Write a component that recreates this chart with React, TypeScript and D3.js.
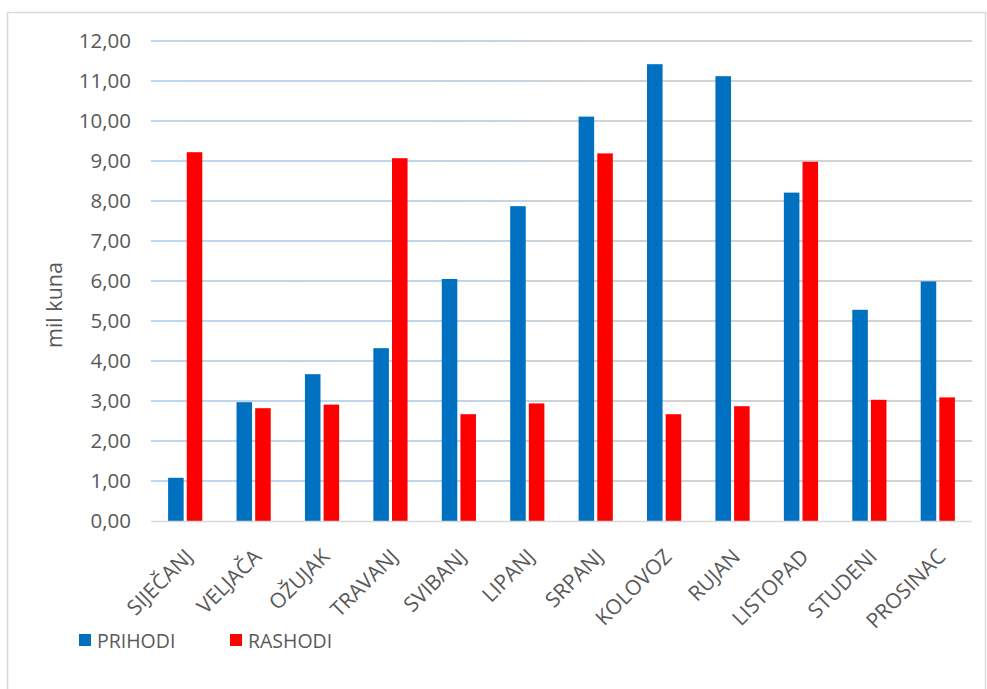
import React from "react";
import * as d3 from "d3";

const categories = ["SIJEČANJ", "VELJAČA", "OŽUJAK", "TRAVANJ", "SVIBANJ", "LIPANJ", "SRPANJ", "KOLOVOZ", "RUJAN", "LISTOPAD", "STUDENI", "PROSINAC"];
const prihodi = [1.08, 2.97, 3.67, 4.32, 6.05, 7.87, 10.11, 11.42, 11.12, 8.21, 5.28, 5.99];
const rashodi = [9.22, 2.82, 2.91, 9.07, 2.67, 2.94, 9.19, 2.67, 2.87, 8.98, 3.03, 3.09];
const seriesNames = ["PRIHODI", "RASHODI"];
const seriesColors = ["#0070C0", "#FF0000"];
const yTicks = [0, 1, 2, 3, 4, 5, 6, 7, 8, 9, 10, 11, 12];
const yTitle = "mil kuna";

const W = 987;
const H = 689;
const FONT = "'Open Sans', 'Noto Sans', sans-serif";
const TEXT = "#595959";

export default function App() {
  const plotL = 151, plotR = 972, plotT = 41, plotB = 521;
  const x = d3.scaleBand<string>().domain(categories).range([plotL, plotR]).padding(0);
  const y = d3.scaleLinear().domain([0, 12]).range([plotB, plotT]);
  const bw = x.bandwidth();
  const group = bw * 0.5;
  const inner = d3.scaleBand<string>().domain(seriesNames).range([0, group]).paddingInner(0.2 / 1.2).paddingOuter(0);
  const data = [prihodi, rashodi];
  const fmt = (v: number) => v.toFixed(2).replace(".", ",");

  return (
    <svg width={W} height={H} style={{ position: "absolute", left: 0, top: 0, background: "#fff" }} fontFamily={FONT}>
      <defs>
        <linearGradient id="gridGrad" gradientUnits="userSpaceOnUse" x1={plotL} y1={0} x2={plotR} y2={0}>
          <stop offset="0" stopColor="#BDD7EE" />
          <stop offset="0.35" stopColor="#BFD5EA" />
          <stop offset="0.55" stopColor="#D2D2D2" />
          <stop offset="1" stopColor="#D2D2D2" />
        </linearGradient>
      </defs>
      <rect x={7.5} y={12.5} width={978} height={700} fill="#fff" stroke="#D9D9D9" strokeWidth={1.5} />
      {yTicks.filter((t) => t > 0).map((t) => (
        <line key={t} x1={plotL} x2={plotR} y1={y(t)} y2={y(t)} stroke="url(#gridGrad)" strokeWidth={1.8} />
      ))}
      {yTicks.map((t) => (
        <text key={"l" + t} x={131} y={y(t)} dy="0.36em" textAnchor="end" fontSize={20.5} fill={TEXT}>
          {fmt(t)}
        </text>
      ))}
      <text transform={`translate(61.5,305) rotate(-90)`} textAnchor="middle" fontSize={21.5} fill={TEXT}>
        {yTitle}
      </text>
      {categories.map((c, i) =>
        data.map((s, si) => (
          <rect
            key={c + si}
            x={(x(c) as number) + bw / 2 - group / 2 + (inner(seriesNames[si]) as number)}
            y={y(s[i])}
            width={inner.bandwidth()}
            height={plotB - y(s[i])}
            fill={seriesColors[si]}
          />
        ))
      )}
      <line x1={plotL} x2={plotR} y1={plotB + 0.5} y2={plotB + 0.5} stroke="#D9D9D9" strokeWidth={1.5} />
      {categories.map((c) => {
        const cx = (x(c) as number) + bw / 2;
        return (
          <text key={"c" + c} transform={`translate(${cx + 9},${plotB + 37}) rotate(-45)`} textAnchor="end" fontSize={21} fill={TEXT}>
            {c}
          </text>
        );
      })}
      {seriesNames.map((n, i) => {
        const lx = [79, 230][i];
        return (
          <g key={n}>
            <rect x={lx} y={634} width={12} height={12} fill={seriesColors[i]} />
            <text x={lx + 18} y={647.5} fontSize={19.5} fill={TEXT}>
              {n}
            </text>
          </g>
        );
      })}
    </svg>
  );
}
